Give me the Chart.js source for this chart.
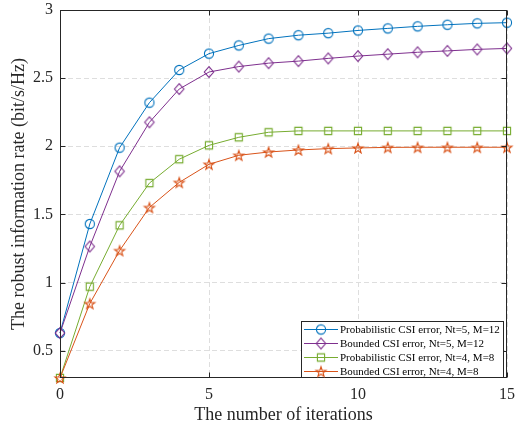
<!DOCTYPE html>
<html>
<head>
<meta charset="utf-8">
<script src="https://cdn.jsdelivr.net/npm/chart.js@4.4.0/dist/chart.umd.min.js"></script>
<style>
  html, body { margin: 0; padding: 0; background: #fff; }
  #wrap { width: 516px; height: 427px; }
</style>
</head>
<body>
<div id="wrap"><canvas id="c" width="516" height="427"></canvas></div>
<script>
// Iteration index (x axis)
const iterations = [0, 1, 2, 3, 4, 5, 6, 7, 8, 9, 10, 11, 12, 13, 14, 15];

// Robust information rate (bit/s/Hz) per iteration
const probNt5M12  = [0.63, 1.43, 1.99, 2.32, 2.56, 2.68, 2.74, 2.79, 2.815, 2.83, 2.85, 2.865, 2.88, 2.892, 2.902, 2.907];
const boundNt5M12 = [0.63, 1.265, 1.816, 2.176, 2.42, 2.545, 2.585, 2.61, 2.625, 2.645, 2.662, 2.676, 2.69, 2.70, 2.711, 2.718];
const probNt4M8   = [0.30, 0.97, 1.42, 1.73, 1.905, 2.007, 2.066, 2.103, 2.113, 2.113, 2.113, 2.113, 2.113, 2.113, 2.113, 2.113];
const boundNt4M8  = [0.30, 0.846, 1.235, 1.551, 1.735, 1.868, 1.934, 1.958, 1.973, 1.983, 1.988, 1.992, 1.993, 1.993, 1.993, 1.993];

const seriesNames = [
  'Probabilistic CSI error, Nt=5, M=12',
  'Bounded CSI error, Nt=5, M=12',
  'Probabilistic CSI error, Nt=4, M=8',
  'Bounded CSI error, Nt=4, M=8'
];
const seriesColors = ['#0072BD', '#7E2F8E', '#77AC30', '#D95319'];
const seriesMarkers = ['circle', 'diamond', 'square', 'pentagram'];

const xTicks = [0, 5, 10, 15];
const yTicks = [0.5, 1, 1.5, 2, 2.5, 3];

const xTitle = 'The number of iterations';
const yTitle = 'The robust information rate (bit/s/Hz)';

const SERIF = '"Liberation Serif", "Times New Roman", serif';
const AXIS_COLOR = '#262626';

// Hollow marker glyphs rendered to small canvases (used as point styles)
function makeMarker(shape, color) {
  const s = 16, m = s / 2;
  const c = document.createElement('canvas');
  c.width = s; c.height = s;
  const g = c.getContext('2d');
  g.strokeStyle = color;
  g.lineWidth = 1.1;
  g.beginPath();
  if (shape === 'circle') {
    g.arc(m, m, 4.6, 0, Math.PI * 2);
  } else if (shape === 'diamond') {
    g.moveTo(m, m - 5.3); g.lineTo(m + 4.7, m); g.lineTo(m, m + 5.3); g.lineTo(m - 4.7, m); g.closePath();
  } else if (shape === 'square') {
    g.rect(m - 3.6, m - 3.6, 7.2, 7.2);
  } else {
    const R = 5.3, r = 2.1;
    for (let k = 0; k < 10; k++) {
      const rad = (k % 2 === 0) ? R : r;
      const a = -Math.PI / 2 + k * Math.PI / 5;
      const px = m + rad * Math.cos(a), py = m + 0.6 + rad * Math.sin(a);
      if (k === 0) g.moveTo(px, py); else g.lineTo(px, py);
    }
    g.closePath();
  }
  g.stroke();
  return c;
}
const markerImgs = seriesMarkers.map((s, i) => makeMarker(s, seriesColors[i]));

const seriesValues = [probNt5M12, boundNt5M12, probNt4M8, boundNt4M8];
const datasets = seriesValues.map((vals, i) => ({
  label: seriesNames[i],
  data: vals.map((v, j) => ({ x: iterations[j], y: v })),
  borderColor: seriesColors[i],
  backgroundColor: seriesColors[i],
  borderWidth: 1,
  tension: 0,
  pointStyle: markerImgs[i],
  pointRadius: 5,
  pointHoverRadius: 5,
  clip: false,
  order: 3 - i
}));

// Axes box with inward tick marks
const boxPlugin = {
  id: 'axesBox',
  afterDatasetsDraw(chart) {
    const { ctx, chartArea: a, scales: { x, y } } = chart;
    ctx.save();
    ctx.strokeStyle = AXIS_COLOR;
    ctx.lineWidth = 1;
    const L = Math.round(a.left) + 0.5, R = Math.round(a.right) - 0.5;
    const T = Math.round(a.top) + 0.5, B = Math.round(a.bottom) - 0.5;
    ctx.strokeRect(L, T, R - L, B - T);
    const tl = 5;
    ctx.beginPath();
    xTicks.forEach(v => {
      const px = Math.round(x.getPixelForValue(v)) + 0.5;
      ctx.moveTo(px, B); ctx.lineTo(px, B - tl);
      ctx.moveTo(px, T); ctx.lineTo(px, T + tl);
    });
    yTicks.forEach(v => {
      const py = Math.round(y.getPixelForValue(v)) + 0.5;
      ctx.moveTo(L, py); ctx.lineTo(L + tl, py);
      ctx.moveTo(R, py); ctx.lineTo(R - tl, py);
    });
    ctx.stroke();
    ctx.restore();
  }
};

// Boxed legend in the lower-right corner of the plot area
const legendPlugin = {
  id: 'insideLegend',
  afterDraw(chart) {
    const { ctx, chartArea: a } = chart;
    const w = 202, rowH = 14, h = 57;
    const bx = Math.round(a.right) - 4 - w, by = Math.round(a.bottom) - h;
    ctx.save();
    ctx.fillStyle = '#fff';
    ctx.fillRect(bx, by, w, h);
    ctx.strokeStyle = AXIS_COLOR;
    ctx.lineWidth = 1;
    ctx.strokeRect(bx + 0.5, by + 0.5, w, h - 1);
    ctx.font = '11px ' + SERIF;
    ctx.textBaseline = 'middle';
    ctx.fillStyle = '#000';
    chart.data.datasets.forEach((ds, i) => {
      const cy = by + 8 + i * rowH;
      ctx.strokeStyle = ds.borderColor;
      ctx.beginPath();
      ctx.moveTo(bx + 3, cy + 0.5);
      ctx.lineTo(bx + 37, cy + 0.5);
      ctx.stroke();
      const img = ds.pointStyle;
      ctx.drawImage(img, bx + 20 - img.width / 2, cy + 0.5 - img.height / 2);
      ctx.fillText(ds.label, bx + 39, cy + 1);
    });
    ctx.restore();
  }
};

new Chart(document.getElementById('c'), {
  type: 'line',
  data: { datasets },
  options: {
    responsive: false,
    animation: false,
    devicePixelRatio: 1,
    layout: { padding: { top: 10, right: 9, left: 0, bottom: 0 } },
    plugins: { legend: { display: false }, tooltip: { enabled: false } },
    scales: {
      x: {
        type: 'linear',
        min: 0, max: 15,
        afterFit(s) { s.height = 49; s.paddingLeft = 0; s.paddingRight = 0; },
        afterBuildTicks(s) { s.ticks = xTicks.map(v => ({ value: v })); },
        ticks: {
          color: AXIS_COLOR,
          font: { family: SERIF, size: 16 },
          padding: 7,
          maxRotation: 0,
          callback: v => String(v)
        },
        grid: { color: '#dedede', lineWidth: 1, drawTicks: false },
        border: { display: false, dash: [5, 3] },
        title: {
          display: true, text: xTitle, color: AXIS_COLOR,
          font: { family: SERIF, size: 18 },
          padding: { top: 0, bottom: 1 }
        }
      },
      y: {
        type: 'linear',
        min: 0.3, max: 3,
        afterFit(s) { s.width = 60; s.paddingTop = 0; s.paddingBottom = 0; },
        afterBuildTicks(s) { s.ticks = yTicks.map(v => ({ value: v })); },
        ticks: {
          color: AXIS_COLOR,
          font: { family: SERIF, size: 16 },
          padding: 7,
          callback: v => String(v)
        },
        grid: { color: '#dedede', lineWidth: 1, drawTicks: false },
        border: { display: false, dash: [5, 3] },
        title: {
          display: true, text: yTitle, color: AXIS_COLOR,
          font: { family: SERIF, size: 18 },
          padding: { top: 8, bottom: 0 }
        }
      }
    }
  },
  plugins: [boxPlugin, legendPlugin]
});
</script>
</body>
</html>
